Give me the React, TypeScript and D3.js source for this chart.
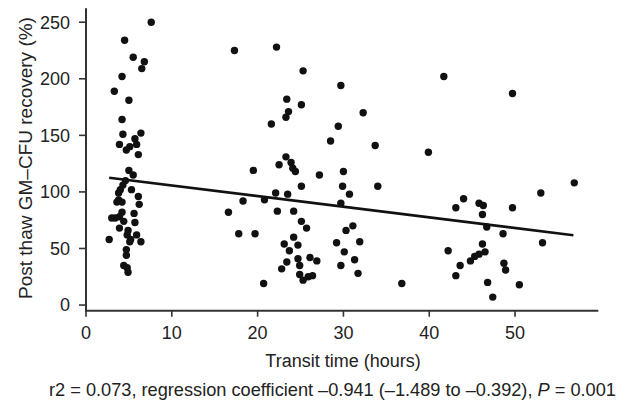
import React from "react";
import * as d3 from "d3";

const hours: number[] = [
  7.6, 4.5, 5.5, 6.8, 6.5, 4.2, 3.3, 5.0, 4.2, 4.3, 3.9, 4.7, 5.1, 5.7, 6.4, 5.9, 6.1, 5.0, 5.5, 4.6,
  4.3, 4.0, 3.8, 5.3, 3.8, 6.1, 6.2, 3.6, 4.2, 5.6, 4.2, 3.9, 3.0, 3.4, 4.4, 5.7, 3.9, 4.9, 4.8, 5.9,
  5.2, 6.4, 2.7, 5.1, 4.7, 4.7, 4.4, 4.8, 4.9,
  17.3, 22.2, 25.3, 29.7, 23.4, 25.1, 23.6, 23.3, 32.3, 21.6, 29.4, 28.5, 33.7, 23.3, 22.5, 23.9, 24.1, 24.4, 19.5, 27.2,
  30.0, 25.1, 29.9, 34.0, 30.7, 22.1, 23.5, 18.3, 20.8, 29.7, 16.6, 22.3, 24.2, 25.1, 25.7, 30.3, 31.1, 17.8, 19.7, 24.2,
  23.1, 24.7, 29.2, 31.9, 23.7, 30.1, 24.7, 26.1, 26.9, 23.4, 31.3, 24.9, 22.8, 29.7, 31.7, 24.9, 25.9, 26.4, 25.3, 20.7,
  41.7, 49.7, 39.9, 56.9, 53.0, 44.0, 43.1, 45.8, 46.3, 49.7, 46.2, 46.7, 48.6, 53.2, 46.2, 42.2, 46.5, 45.8, 45.3, 44.8,
  43.6, 48.7, 48.9, 43.1, 36.8, 46.8, 50.5, 47.4,
];
const recovery: number[] = [
  250, 234, 219, 215, 209, 202, 189, 181, 164, 151, 142, 137, 140, 147, 152, 142, 133, 119, 115, 110,
  106, 102, 99, 102, 93, 96, 89, 91, 91, 81, 82, 78, 77, 77, 74, 73, 68, 66, 62, 62,
  58, 56, 58, 56, 49, 44, 35, 33, 29,
  225, 228, 207, 194, 182, 177, 171, 166, 170, 160, 158, 145, 141, 131, 124, 126, 121, 118, 119, 115,
  118, 105, 105, 105, 98, 99, 98, 92, 93, 90, 82, 83, 83, 74, 68, 66, 70, 63, 63, 60,
  54, 53, 55, 56, 48, 47, 41, 42, 39, 38, 40, 35, 32, 35, 28, 27, 25, 26, 22, 19,
  202, 187, 135, 108, 99, 94, 86, 90, 88, 86, 80, 69, 63, 55, 54, 48, 47, 45, 43, 39,
  35, 37, 31, 26, 19, 20, 18, 7,
];
const xTicks: number[] = [0, 10, 20, 30, 40, 50];
const yTicks: number[] = [0, 50, 100, 150, 200, 250];
const regIntercept = 115.1;
const regSlope = -0.941;
const regRange: number[] = [2.7, 56.8];

const FONT = "'Liberation Sans', Arial, Helvetica, sans-serif";
const INK = "#222";

export default function App() {
  const x = d3.scaleLinear().domain([0, 59.7]).range([86, 598.3]);
  const y = d3.scaleLinear().domain([-5, 262.3]).range([310.7, 8.3]);
  const line = d3
    .line<number>()
    .x((d) => x(d))
    .y((d) => y(regIntercept + regSlope * d));

  return (
    <svg
      width={628}
      height={402}
      style={{ position: "absolute", left: 0, top: 0, background: "#fff" }}
      fontFamily={FONT}
    >
      <rect x={0} y={0} width={628} height={402} fill="#fff" />
      {/* axes */}
      <line x1={x(0)} x2={x(0)} y1={y(262.3)} y2={y(-5) + 1} stroke="#333" strokeWidth={2} />
      <line x1={x(0) - 1} x2={x(59.7)} y1={y(-5)} y2={y(-5)} stroke="#333" strokeWidth={2} />
      {yTicks.map((t) => (
        <g key={"y" + t}>
          <line x1={x(0) - 7} x2={x(0)} y1={y(t)} y2={y(t)} stroke="#333" strokeWidth={1.6} />
          <text x={70} y={y(t)} dy="0.35em" textAnchor="end" fontSize={18} fill={INK}>
            {t}
          </text>
        </g>
      ))}
      {xTicks.map((t) => (
        <g key={"x" + t}>
          <line x1={x(t)} x2={x(t)} y1={y(-5)} y2={y(-5) + 6} stroke="#333" strokeWidth={1.6} />
          <text x={x(t)} y={339} textAnchor="middle" fontSize={18} fill={INK}>
            {t}
          </text>
        </g>
      ))}
      {/* points */}
      {hours.map((h, i) => (
        <circle key={i} cx={x(h)} cy={y(recovery[i])} r={3.7} fill="#111" />
      ))}
      {/* regression line */}
      <path d={line(regRange) || ""} stroke="#111" strokeWidth={2.6} fill="none" />
      {/* titles */}
      <text x={343} y={367} textAnchor="middle" fontSize={18} fill={INK}>
        Transit time (hours)
      </text>
      <text
        transform={`translate(32,158) rotate(-90)`}
        textAnchor="middle"
        fontSize={19}
        fill={INK}
      >
        Post thaw GM–CFU recovery (%)
      </text>
      <text x={49} y={396} fontSize={18.2} fill={INK}>
        r2 = 0.073, regression coefficient –0.941 (–1.489 to –0.392),{" "}
        <tspan fontStyle="italic">P</tspan> = 0.001
      </text>
    </svg>
  );
}
